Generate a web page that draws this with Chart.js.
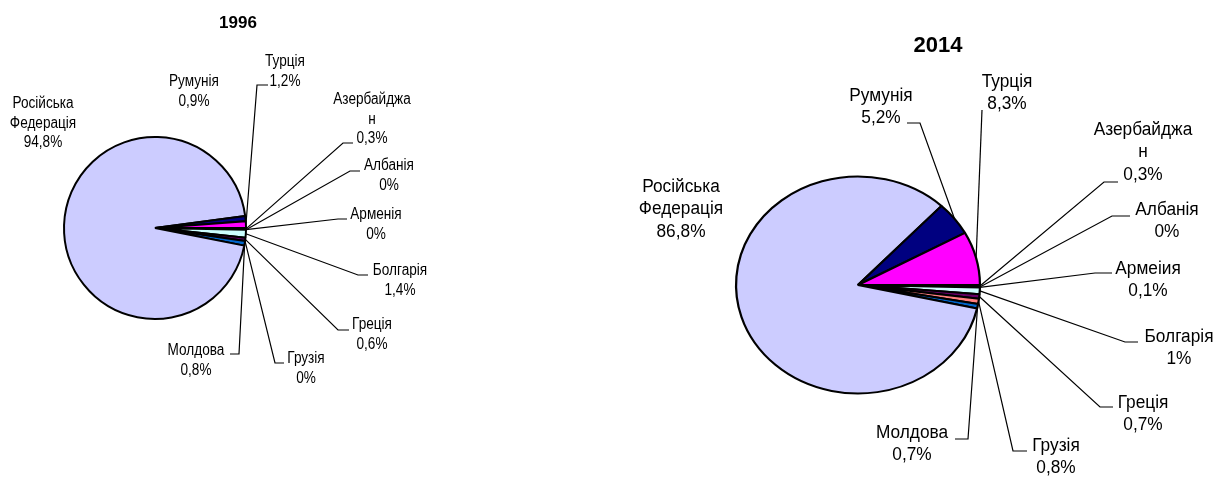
<!DOCTYPE html>
<html>
<head>
<meta charset="utf-8">
<script src="https://cdn.jsdelivr.net/npm/chart.js@4.4.1/dist/chart.umd.min.js"></script>
<style>
  body { margin: 0; background: #fff; }
  #wrap { position: relative; width: 1218px; height: 478px; overflow: hidden; }
  #wrap canvas { position: absolute; top: 0; }
  #c1996 { left: 0; }
  #c2014 { left: 600px; }
</style>
</head>
<body>
<div id="wrap">
  <canvas id="c1996" width="480" height="478"></canvas>
  <canvas id="c2014" width="618" height="478"></canvas>
</div>
<script>
// data (shares in %, alphabetical order like the source table)
const countries1996 = ['Азербайджан', 'Албанія', 'Арменія', 'Болгарія', 'Греція', 'Грузія', 'Молдова', 'Російська Федерація', 'Румунія', 'Турція']
const shares1996 = [0.3, 0, 0, 1.4, 0.6, 0, 0.8, 94.8, 0.9, 1.2]

const countries2014 = ['Азербайджан', 'Албанія', 'Армеіия', 'Болгарія', 'Греція', 'Грузія', 'Молдова', 'Російська Федерація', 'Румунія', 'Турція']
const shares2014 = [0.3, 0, 0.1, 1, 0.7, 0.8, 0.7, 86.8, 5.2, 8.3]

// old excel pie palette
const sliceColors = ['#9999FF', '#993366', '#FFFFCC', '#CCFFFF', '#660066', '#FF8080', '#0066CC', '#CCCCFF', '#000080', '#FF00FF']

// label placement: [textX, firstLineY, leaderTextEndX, elbowX, elbowY] or [x, y] when no leader line
const labelPos1996 = [
    [372, 100, 353, 343, 143],
    [389, 166, 360, 350, 171],
    [376, 215, 347, 338, 219],
    [400, 271, 368, 358, 275],
    [372, 325, 349, 338, 330],
    [306, 359, 284, 275, 363],
    [196, 351, 230, 239, 354],
    [43, 104],
    [194, 82],
    [285, 62, 268, 257, 85]
]
const labelPos2014 = [
    [543, 130, 518, 504, 182],
    [567, 210, 530, 512, 216],
    [548, 269, 512, 495, 273],
    [579, 337, 538, 525, 342],
    [543, 403, 513, 500, 407],
    [456, 446, 427, 413, 451],
    [312, 433, 355, 368, 439],
    [81, 187],
    [281, 96, 307, 320, 123],
    [407, 82, 382, 382, 110]
]

const wrapName = (name) => {
    let out = []
    name.split(' ').forEach(w => {
        while (w.length > 10) {
            out.push(w.slice(0, 10))
            w = w.slice(10)
        }
        out.push(w)
    })
    return out
}

const pctText = (v) => String(v).replace('.', ',') + '%'

const drawText = (ctx, text, x, y, sx) => {
    ctx.save()
    ctx.translate(x, y)
    ctx.scale(sx, 1)
    ctx.fillText(text, 0, 0)
    ctx.restore()
}

//plugin: stretch pie into ellipse, then leaders + labels + title
const pieLabels = (cfg) => ({
    id: 'pieLabels',
    beforeDatasetsDraw(chart) {
        const arc = chart.getDatasetMeta(0).data[0]
        const ctx = chart.ctx
        ctx.save()
        ctx.translate(arc.x, arc.y)
        ctx.scale(cfg.stretch, 1)
        ctx.translate(-arc.x, -arc.y)
    },
    afterDatasetsDraw(chart) {
        const ctx = chart.ctx
        ctx.restore()
        const arcs = chart.getDatasetMeta(0).data
        const values = chart.data.datasets[0].data

        ctx.save()
        ctx.strokeStyle = '#000'
        ctx.lineWidth = 1.2
        arcs.forEach((arc, i) => {
            const p = cfg.pos[i]
            if (p.length < 5) return
            const mid = (arc.startAngle + arc.endAngle) / 2
            const ax = arc.x + cfg.stretch * arc.outerRadius * Math.cos(mid)
            const ay = arc.y + arc.outerRadius * Math.sin(mid)
            ctx.beginPath()
            ctx.moveTo(p[2], p[4])
            ctx.lineTo(p[3], p[4])
            ctx.lineTo(ax, ay)
            ctx.stroke()
        })

        ctx.fillStyle = '#000'
        ctx.textAlign = 'center'
        ctx.textBaseline = 'middle'
        ctx.font = cfg.fontSize + 'px "Liberation Sans", Arial, sans-serif'
        chart.data.labels.forEach((name, i) => {
            const p = cfg.pos[i]
            const lines = wrapName(name).concat([pctText(values[i])])
            lines.forEach((t, k) => drawText(ctx, t, p[0], p[1] + k * cfg.lineH, cfg.textScale))
        })

        ctx.font = 'bold ' + cfg.titleSize + 'px "Liberation Sans", Arial, sans-serif'
        ctx.fillText(cfg.title, cfg.titleX, cfg.titleY)
        ctx.restore()
    }
})

const makePie = (id, labels, data, cfg) => {
    const ctx = document.getElementById(id).getContext('2d')
    return new Chart(ctx, {
        type: 'pie',
        data: {
            labels: labels,
            datasets: [{
                data: data,
                backgroundColor: sliceColors,
                borderColor: '#000',
                borderWidth: 2,
                radius: cfg.radius
            }]
        },
        options: {
            responsive: false,
            animation: false,
            rotation: 90,
            layout: { padding: cfg.padding },
            plugins: {
                legend: { display: false },
                tooltip: { enabled: false }
            }
        },
        plugins: [pieLabels(cfg)]
    })
}

makePie('c1996', countries1996, shares1996, {
    radius: 91,
    padding: { left: 0, right: 170, top: 0, bottom: 22 },
    stretch: 1,
    pos: labelPos1996,
    fontSize: 16,
    lineH: 19.5,
    textScale: 0.85,
    title: '1996',
    titleSize: 17,
    titleX: 238,
    titleY: 23
})

makePie('c2014', countries2014, shares2014, {
    radius: 108.5,
    padding: { left: 0, right: 102, top: 92, bottom: 0 },
    stretch: 1.124,
    pos: labelPos2014,
    fontSize: 18,
    lineH: 22.5,
    textScale: 0.96,
    title: '2014',
    titleSize: 22,
    titleX: 338,
    titleY: 46
})
</script>
</body>
</html>
